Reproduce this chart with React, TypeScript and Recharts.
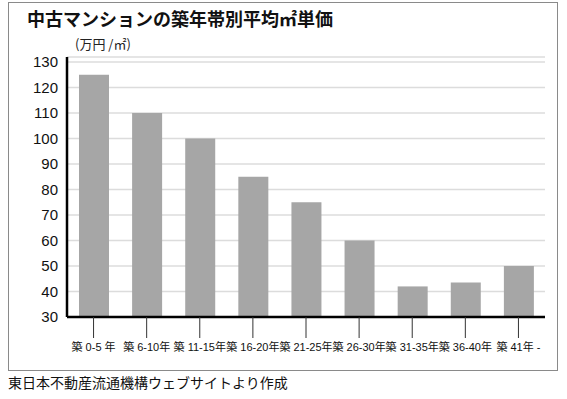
import React from 'react';
import { BarChart, Bar, XAxis, YAxis, CartesianGrid } from 'recharts';

const CATEGORIES = ['築 0-5 年', '築 6-10年', '築 11-15年', '築 16-20年', '築 21-25年', '築 26-30年', '築 31-35年', '築 36-40年', '築 41年 -'];
const PRICES = [125, 110, 100, 85, 75, 60, 42, 43.5, 50];
const Y_TICKS = [30, 40, 50, 60, 70, 80, 90, 100, 110, 120, 130];

const data = CATEGORIES.map((name, i) => ({ name, price: PRICES[i] }));

const JP_FONT = '"Noto Sans CJK JP", "Noto Sans", sans-serif';
const MIX_FONT = '"Liberation Sans", "Noto Sans CJK JP", sans-serif';

const App: React.FC = () => {
  return (
    <div style={{ position: 'absolute', left: 0, top: 0, width: 567, height: 399, background: '#fff', fontFamily: JP_FONT }}>
      <div style={{ position: 'absolute', left: 8, top: 2, width: 550, height: 369, border: '1px solid #8a8a8a', boxSizing: 'border-box' }} />
      <div style={{ position: 'absolute', left: 27, top: 6, fontSize: 18, fontWeight: 'bold', color: '#111', lineHeight: '24px', whiteSpace: 'nowrap' }}>
        中古マンションの築年帯別平均㎡単価
      </div>
      <div style={{ position: 'absolute', left: 75, top: 35, fontSize: 13, color: '#222', lineHeight: '17px', whiteSpace: 'nowrap' }}>
        (万円 /㎡)
      </div>
      <div style={{ position: 'absolute', left: 0, top: 0 }}>
        <BarChart width={567} height={371} data={data} margin={{ top: 57, right: 22, left: 27, bottom: 13 }}>
          <CartesianGrid vertical={false} stroke="#dcdcdc" strokeWidth={1.5} />
          <XAxis
            dataKey="name"
            height={41}
            interval={0}
            axisLine={{ stroke: '#000', strokeWidth: 2.5 }}
            tickLine={{ stroke: '#333', strokeWidth: 1 }}
            tickSize={21}
            tickMargin={5}
            tick={{ fill: '#111', fontSize: 11, fontFamily: MIX_FONT }}
          />
          <YAxis
            width={40}
            domain={[30, 132]}
            ticks={Y_TICKS}
            interval={0}
            allowDataOverflow
            axisLine={{ stroke: '#000', strokeWidth: 2.5 }}
            tickLine={false}
            tickMargin={3}
            tick={{ fill: '#111', fontSize: 15, fontFamily: '"Liberation Sans", Arial, sans-serif' }}
          />
          <Bar dataKey="price" fill="#a6a6a6" barSize={30} isAnimationActive={false} />
        </BarChart>
      </div>
      <div style={{ position: 'absolute', left: 8, top: 373, fontSize: 14, color: '#111', lineHeight: '19px', whiteSpace: 'nowrap' }}>
        東日本不動産流通機構ウェブサイトより作成
      </div>
    </div>
  );
};

export default App;
